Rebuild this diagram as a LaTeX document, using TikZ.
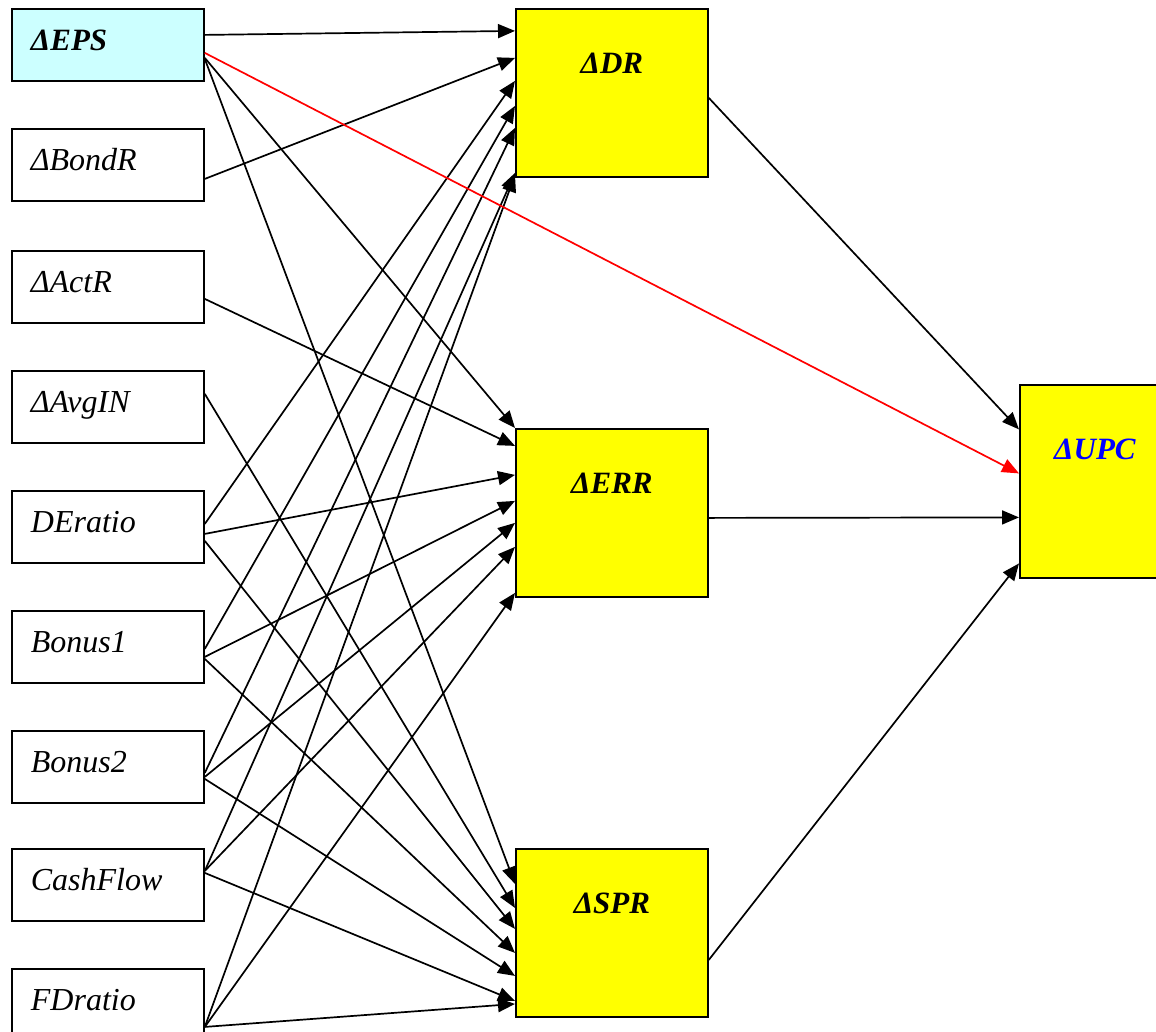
\documentclass[tikz,border=0pt]{standalone}
\usepackage{fontspec}
\setmainfont{Liberation Serif}
\usetikzlibrary{arrows.meta}
\definecolor{epscyan}{RGB}{204,255,255}
\definecolor{stageyellow}{RGB}{255,255,0}

\begin{document}
\begin{tikzpicture}[x=1pt,y=-1pt,
    inbox/.style={draw, line width=1.8pt, anchor=north west, text width=154pt,
      inner xsep=19pt, inner ysep=0pt, minimum height=72pt,
      text height=21pt, text depth=10pt, align=left,
      font=\fontsize{32}{38}\selectfont\itshape},
    stagebox/.style={draw, line width=1.8pt, fill=stageyellow, anchor=north west,
      minimum width=192pt, minimum height=168pt, inner sep=0pt,
      text height=22pt, text depth=60pt,
      font=\fontsize{31}{37}\selectfont\bfseries\itshape},
    link/.style={line width=1.7pt, -{Triangle[length=17pt,width=14pt]}}]
  \clip (0,0) rectangle (1156,1031);

% input variables at left
  \node[inbox, fill=epscyan, font=\fontsize{31}{37}\selectfont\bfseries\itshape] (eps) at (11,8) {ΔEPS};
  \node[inbox] (bondr) at (11,128) {ΔBondR};
  \node[inbox] (actr) at (11,250) {ΔActR};
  \node[inbox] (avgin) at (11,370) {ΔAvgIN};
  \node[inbox] (deratio) at (11,490) {DEratio};
  \node[inbox] (bonus1) at (11,610) {Bonus1};
  \node[inbox] (bonus2) at (11,730) {Bonus2};
  \node[inbox] (cashflow) at (11,848) {CashFlow};
  \node[inbox] (fdratio) at (11,968) {FDratio};

% intermediate stages
  \node[stagebox] (dr) at (515,8) {ΔDR};
  \node[stagebox] (err) at (515,428) {ΔERR};
  \node[stagebox] (spr) at (515,848) {ΔSPR};

% final output
  \node[stagebox, minimum width=150pt, minimum height=193pt, text depth=65pt,
    text=blue] (upc) at (1019,384) {ΔUPC};

% links into DR
  \draw[link] ([yshift=10pt]eps.east) -- ([yshift=62pt]dr.west);
  \draw[link] ([yshift=-14pt]bondr.east) -- ([yshift=35pt]dr.west);
  \draw[link] ([yshift=3pt]deratio.east) -- ([yshift=12pt]dr.west);
  \draw[link] ([yshift=-2pt]bonus1.east) -- ([yshift=-13pt]dr.west);
  \draw[link] ([yshift=-6pt]bonus2.east) -- ([yshift=-35pt]dr.west);
  \draw[link] ([yshift=14pt]cashflow.east) -- ([yshift=-80pt]dr.west);
  \draw[link] ([yshift=-22pt]fdratio.east) -- ([yshift=-82pt]dr.west);

% links into ERR
  \draw[link] ([yshift=-13pt]eps.east) -- (err.north west);
  \draw[link] ([yshift=-12pt]actr.east) -- ([yshift=67pt]err.west);
  \draw[link] ([yshift=-7pt]deratio.east) -- ([yshift=38pt]err.west);
  \draw[link] ([yshift=-10pt]bonus1.east) -- ([yshift=12pt]err.west);
  \draw[link] ([yshift=-10pt]bonus2.east) -- ([yshift=-10pt]err.west);
  \draw[link] ([yshift=14pt]cashflow.east) -- ([yshift=-34pt]err.west);
  \draw[link] ([yshift=-22pt]fdratio.east) -- ([yshift=-80pt]err.west);

% links into SPR
  \draw[link] ([yshift=-14pt]eps.east) -- ([yshift=49pt]spr.west);
  \draw[link] ([yshift=13pt]avgin.east) -- ([yshift=25pt]spr.west);
  \draw[link] ([yshift=-14pt]deratio.east) -- ([yshift=4pt]spr.west);
  \draw[link] ([yshift=-12pt]bonus1.east) -- ([yshift=-20pt]spr.west);
  \draw[link] ([yshift=-12pt]bonus2.east) -- ([yshift=-43pt]spr.west);
  \draw[link] ([yshift=12pt]cashflow.east) -- ([yshift=-68pt]spr.west);
  \draw[link] ([yshift=-22pt]fdratio.east) -- ([yshift=-71pt]spr.west);

% links into UPC
  \draw[link, red] ([yshift=-8pt]eps.east) -- ([yshift=8pt]upc.west);
  \draw[link] ([yshift=-5pt]dr.east) -- ([yshift=52pt]upc.west);
  \draw[link] ([yshift=-5pt]err.east) -- ([yshift=-36pt]upc.west);
  \draw[link] ([yshift=-27pt]spr.east) -- ([yshift=-82pt]upc.west);

\end{tikzpicture}
\end{document}
